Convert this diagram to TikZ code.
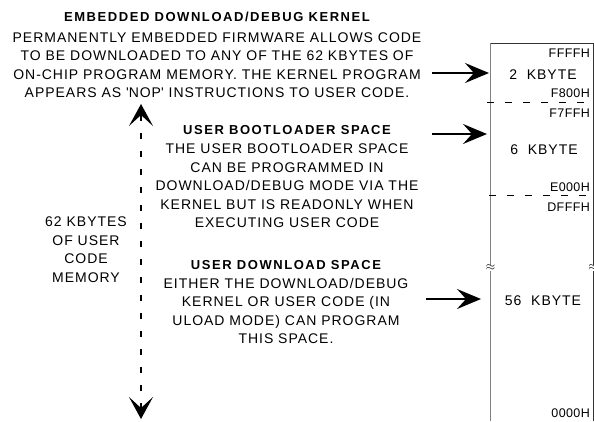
\documentclass[tikz,border=0pt]{standalone}
\usepackage{fontspec}
\setmainfont{Liberation Sans}[LetterSpace=7]
\newfontfamily\headfont{Liberation Sans}[LetterSpace=12]
\newfontfamily\addrfont{Liberation Sans}[LetterSpace=3]
\usetikzlibrary{arrows.meta,positioning}

\tikzset{
	heading/.style={font=\headfont\bfseries\fontsize{13}{16}\selectfont, inner sep=0pt},
	blurb/.style={font=\fontsize{14}{18.5}\selectfont, align=center, inner sep=0pt},
	addr/.style={font=\addrfont\fontsize{12.5}{14}\selectfont, inner sep=0pt, anchor=east},
	kb/.style={font=\fontsize{14}{16}\selectfont, inner sep=0pt},
	pointer/.style={line width=1.8pt, -{Stealth[length=24pt,width=20pt,inset=9pt]}},
	spanarrow/.style={line width=1.2pt, dash pattern=on 6pt off 12pt,
		{Stealth[length=22pt,width=24pt,inset=11pt]}-{Stealth[length=22pt,width=24pt,inset=11pt]}},
	divider/.style={line width=0.9pt, dash pattern=on 7pt off 11pt},
	brk/.style={fill=white, inner sep=0.3pt, font=\fontsize{12}{12}\selectfont},
}

\begin{document}
\begin{tikzpicture}[x=1pt,y=-1pt]
	\useasboundingbox (0,0) rectangle (594,421);

	% text blocks
	\node[heading] (kernel) at (217,17) {EMBEDDED DOWNLOAD/DEBUG KERNEL};
	\node[blurb] (kerneltext) [below=10pt of kernel] {PERMANENTLY EMBEDDED FIRMWARE ALLOWS CODE\\TO BE DOWNLOADED TO ANY OF THE 62 KBYTES OF\\ON-CHIP PROGRAM MEMORY. THE KERNEL PROGRAM\\APPEARS AS \textquotesingle NOP\textquotesingle{} INSTRUCTIONS TO USER CODE.};
	\node[heading] (boot) at (287,130) {USER BOOTLOADER SPACE};
	\node[blurb] (boottext) [below=9pt of boot] {THE USER BOOTLOADER SPACE\\CAN BE PROGRAMMED IN\\DOWNLOAD/DEBUG MODE VIA THE\\KERNEL BUT IS READONLY WHEN\\EXECUTING USER CODE};
	\node[heading] (dl) at (286,265) {USER DOWNLOAD SPACE};
	\node[blurb] (dltext) [below=8pt of dl] {EITHER THE DOWNLOAD/DEBUG\\KERNEL OR USER CODE (IN\\ULOAD MODE) CAN PROGRAM\\THIS SPACE.};
	\node[blurb] (total) at (86,249.5) {62 KBYTES\\OF USER\\CODE\\MEMORY};

	% memory map
	\coordinate (memsw) at (490.5,421);
	\coordinate (memnw) at (490.5,43);
	\coordinate (memne) at (593,43);
	\coordinate (memse) at (593,421);
	\draw[line width=1pt, black!50] (memsw) -- (memnw);
	\draw[line width=0.9pt, black!80] (memnw) -- (memne) -- (memse);
	\draw[divider] (487,102) -- (591,102);
	\draw[divider] (489,195) -- (591,195);
	\node[brk] (brkw) at (490.5,268) {$\approx$};
	\node[brk] (brke) at (593,268) {$\approx$};

	\node[addr] (ffff) at (590,53) {FFFFH};
	\node[kb] (two) at (543,75) {2\ \ KBYTE};
	\node[addr] (f800) at (590,93) {F800H};
	\node[addr] (f7ff) at (590,113) {F7FFH};
	\node[kb] (six) at (544,150) {6\ \ KBYTE};
	\node[addr] (e000) at (590,187) {E000H};
	\node[addr] (dfff) at (590,207) {DFFFH};
	\node[kb] (fiftysix) at (543,301) {56\ \ KBYTE};
	\node[addr] (zero) at (590,413) {0000H};

	% arrows
	\coordinate (kernelfrom) at (432,73);
	\coordinate (kernelto) at (489,73);
	\coordinate (bootfrom) at (432,134);
	\coordinate (bootto) at (487,134);
	\coordinate (dlfrom) at (426,299);
	\coordinate (dlto) at (481,299);
	\coordinate (top) at (141,104);
	\coordinate (bottom) at (141,419);

	\draw (kernelfrom) edge[pointer] (kernelto)
		(bootfrom) edge[pointer] (bootto)
		(dlfrom) edge[pointer] (dlto)
		(bottom) edge[spanarrow] (top);
\end{tikzpicture}
\end{document}
